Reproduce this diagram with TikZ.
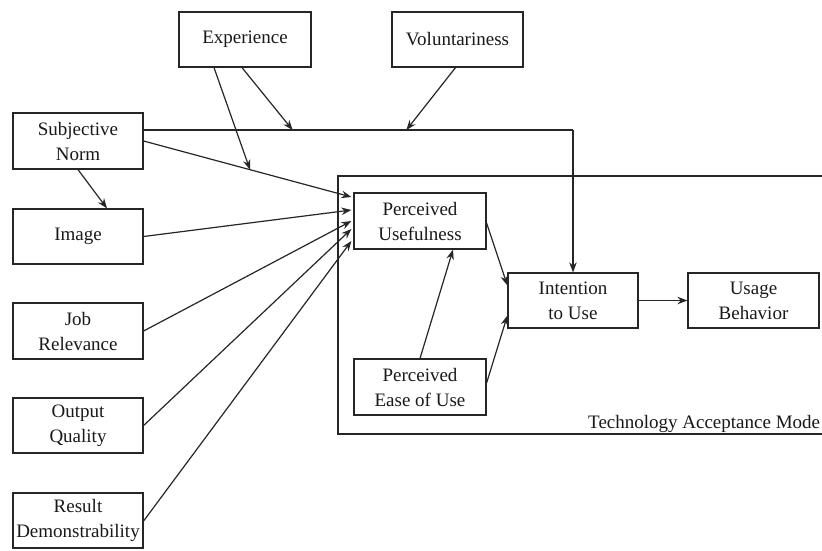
\documentclass[tikz,border=0pt]{standalone}
\usepackage{fontspec}
\setmainfont{Liberation Serif}
\usetikzlibrary{arrows.meta,calc}
\begin{document}
\begin{tikzpicture}[x=1pt,y=-1pt,
  ink/.style={draw=black!85,line width=1.2pt},
  box/.style={ink,rectangle,inner sep=0pt,align=center,
    minimum width=131pt,minimum height=55pt,
    font=\fontsize{19}{25}\selectfont,text=black!90},
  arr/.style={ink,-{Stealth[length=10pt,width=7.5pt]}},
  line/.style={ink}]
\useasboundingbox (0,0) rectangle (822,550);
\clip (0,0) rectangle (822,550);
\fill[white] (0,0) rectangle (822,550);

% TAM frame (runs past the right edge)
\draw[line] (338,176) rectangle (840,434);
\node[anchor=base west,inner sep=0pt,font=\fontsize{19}{25}\selectfont,text=black!90]
  (tamlabel) at (588,428) {Technology Acceptance Mode};

% external variables
\node[box,minimum width=132pt] (exp) at (245,39.5) {Experience};
\node[box] (vol) at (457.5,39.5) {Voluntariness};
\node[box,minimum width=130pt,minimum height=56pt] (sn) at (78,141) {Subjective\\Norm};
\node[box,minimum width=130pt] (img) at (78,236.5) {Image};
\node[box,minimum width=130pt,minimum height=56pt] (job) at (78,331) {Job\\Relevance};
\node[box,minimum width=130pt] (out) at (78,425.5) {Output\\Quality};
\node[box,minimum width=130pt] (res) at (78,520.5) {Result\\Demonstrability};

% TAM constructs
\node[box,minimum width=132pt,minimum height=56pt] (pu) at (420,221) {Perceived\\Usefulness};
\node[box,minimum width=132pt,minimum height=56pt] (peou) at (420,387) {Perceived\\Ease of Use};
\node[box,minimum width=130pt] (int) at (573,300.5) {Intention\\to Use};
\node[box] (use) at (753.5,300.5) {Usage\\Behavior};

% subjective norm to intention, with moderators
\coordinate (snh) at ($(sn.east)+(0,-11)$);
\coordinate (corner) at (int.north |- snh);
\draw[line] (snh) -- (corner);
\draw[arr] (corner) -- (int.north);
\coordinate (expmod) at ($(snh)!0.347!(corner)$);
\coordinate (volmod) at ($(snh)!0.612!(corner)$);
\draw[arr] ($(exp.south)+(-3,0)$) -- (expmod);
\draw[arr] ($(vol.south)+(-2,0)$) -- (volmod);

% determinants of perceived usefulness
\coordinate (pu1) at ($(pu.west)+(-2,-24)$);
\draw[arr] (sn.east) -- (pu1);
\coordinate (snmod) at ($(sn.east)!0.512!(pu1)$);
\draw[arr] ($(exp.south)+(-31,0)$) -- (snmod);
\draw[arr] (sn.south) -- ($(img.north)+(29,0)$);
\draw[arr] (img.east) -- ($(pu.west)+(-2,-11)$);
\draw[arr] (job.east) -- ($(pu.west)+(-2,0)$);
\draw[arr] (out.east) -- ($(pu.west)+(-2,8)$);
\draw[arr] ($(res.east)+(0,0.5)$) -- ($(pu.west)+(-2,20)$);

% TAM core paths
\draw[arr] (peou.north) -- ($(pu.south)+(33,0)$);
\draw[arr] ($(pu.east)+(0,2)$) -- ($(int.west)+(0,-15)$);
\draw[arr] ($(peou.east)+(0,-4)$) -- ($(int.west)+(0,15)$);
\draw[arr] (int.east) -- (use.west);
\end{tikzpicture}
\end{document}
